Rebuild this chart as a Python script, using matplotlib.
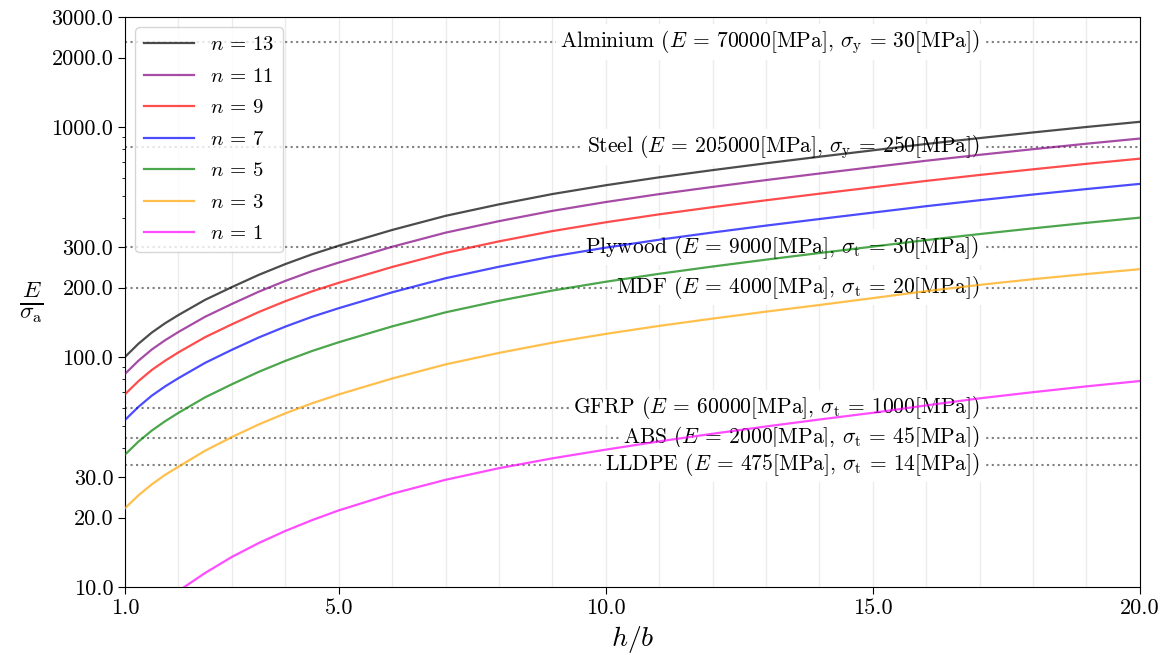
import numpy as np
import matplotlib
matplotlib.use("Agg")
import matplotlib.pyplot as plt
from matplotlib.ticker import FormatStrFormatter, MultipleLocator, FixedLocator, LogLocator, NullFormatter

plt.rcParams["font.family"] = "serif"
plt.rcParams["font.serif"] = ["cmr10"]
plt.rcParams["mathtext.fontset"] = "cm"
plt.rcParams["axes.formatter.use_mathtext"] = True

# h/b positions where the curves were read
hb = [1, 1.25, 1.5, 1.75, 2, 2.5, 3, 3.5, 4, 4.5, 5, 6, 7, 8, 9, 10, 11, 12, 13, 14, 15, 16, 17, 18, 19, 20]

# E / sigma_a for each n
n13 = [100, 114, 127.5, 140, 152, 177, 201, 227, 253, 279, 304, 356, 410, 460, 510, 557, 603, 648, 694, 741, 790, 842, 893, 945, 998, 1051]
n11 = [84.4, 96.2, 107.6, 118.1, 128.3, 149.4, 169.8, 191.8, 213.8, 235.8, 256.9, 300.9, 346.5, 388.8, 431.0, 470.8, 509.7, 547.7, 586.6, 626.4, 667.9, 711.9, 755.2, 799.2, 844.1, 888.9]
n9 = [68.8, 78.4, 87.7, 96.2, 104.6, 121.8, 138.5, 156.5, 174.5, 192.5, 209.8, 245.8, 283.0, 317.6, 352.0, 384.5, 416.3, 447.4, 479.2, 511.8, 545.7, 581.8, 617.4, 653.4, 690.2, 726.8]
n7 = [53.2, 60.6, 67.8, 74.4, 80.8, 94.2, 107.3, 121.3, 135.3, 149.3, 162.7, 190.7, 219.6, 246.4, 273.1, 298.3, 322.9, 347.1, 371.9, 397.2, 423.6, 451.7, 479.5, 507.6, 536.2, 564.7]
n5 = [37.6, 42.8, 47.8, 52.5, 57.1, 66.7, 76.0, 86.0, 96.0, 106.0, 115.7, 135.6, 156.1, 175.2, 194.1, 212.0, 229.6, 246.9, 264.5, 282.6, 301.4, 321.7, 341.7, 361.8, 382.3, 402.7]
n3 = [22.0, 25.0, 27.9, 30.7, 33.3, 39.1, 44.8, 50.8, 56.8, 62.8, 68.6, 80.5, 92.7, 104.0, 115.2, 125.8, 136.3, 146.6, 157.2, 168.0, 180.0, 193.0, 205.5, 217.5, 229.0, 240.5]
n1 = [6.4, 7.2, 8.0, 8.8, 9.6, 11.5, 13.5, 15.5, 17.5, 19.5, 21.5, 25.4, 29.2, 32.8, 36.2, 39.5, 42.9, 46.3, 49.8, 53.4, 57.1, 61.5, 66.0, 70.2, 74.4, 78.5]

curves = [n13, n11, n9, n7, n5, n3, n1]
n_labels = [13, 11, 9, 7, 5, 3, 1]
colors = ["black", "purple", "red", "blue", "green", "orange", "magenta"]

# materials: E [MPa], strength [MPa], strength subscript
mat_names = ["Alminium", "Steel", "Plywood", "MDF", "GFRP", "ABS", "LLDPE"]
mat_E = [70000, 205000, 9000, 4000, 60000, 2000, 475]
mat_s = [30, 250, 30, 20, 1000, 45, 14]
mat_sub = ["y", "y", "t", "t", "t", "t", "t"]

fig = plt.figure(figsize=(11.69, 6.55), dpi=100)
ax = fig.add_axes([0.107, 0.104, 0.868, 0.870])

for y, n, c in zip(curves, n_labels, colors):
    ax.plot(hb, y, color=c, alpha=0.7, lw=1.6, label=f"$n\\,=\\,{n}$", zorder=4)

for name, E, s, sub in zip(mat_names, mat_E, mat_s, mat_sub):
    ax.axhline(E / s, color="gray", ls=":", lw=1.5, zorder=2)
    ax.text(17, E / s, f"{name} ($E$ = {E}[MPa], $\\sigma_\\mathrm{{{sub}}}$ = {s}[MPa])",
            ha="right", va="center", fontsize=15.5, zorder=3,
            bbox=dict(facecolor="white", edgecolor="none", pad=3))

ax.set_yscale("log")
ax.set_xlim(1, 20)
ax.set_ylim(10, 3000)

ax.yaxis.set_major_locator(FixedLocator([10, 20, 30, 100, 200, 300, 1000, 2000, 3000]))
ax.yaxis.set_minor_locator(LogLocator(base=10, subs=np.arange(2, 10)))
ax.yaxis.set_major_formatter(FormatStrFormatter("%.1f"))
ax.yaxis.set_minor_formatter(NullFormatter())

ax.xaxis.set_major_locator(FixedLocator([1, 5, 10, 15, 20]))
ax.xaxis.set_minor_locator(MultipleLocator(1))
ax.xaxis.set_major_formatter(FormatStrFormatter("%.1f"))
ax.tick_params(axis="x", which="minor", length=0)
ax.tick_params(axis="both", which="major", labelsize=16, length=5)
ax.grid(True, axis="x", which="both", color="#ececec", lw=1, zorder=0)
ax.set_axisbelow(True)

ax.set_xlabel("$h/b$", fontsize=20, labelpad=4)
ax.set_ylabel("$\\frac{E}{\\sigma_\\mathrm{a}}$", fontsize=24, rotation=0, labelpad=14, va="center")

ax.legend(loc="upper left", fontsize=15, handlelength=2.4, labelspacing=0.62)

fig.savefig("out.png", dpi=100)
